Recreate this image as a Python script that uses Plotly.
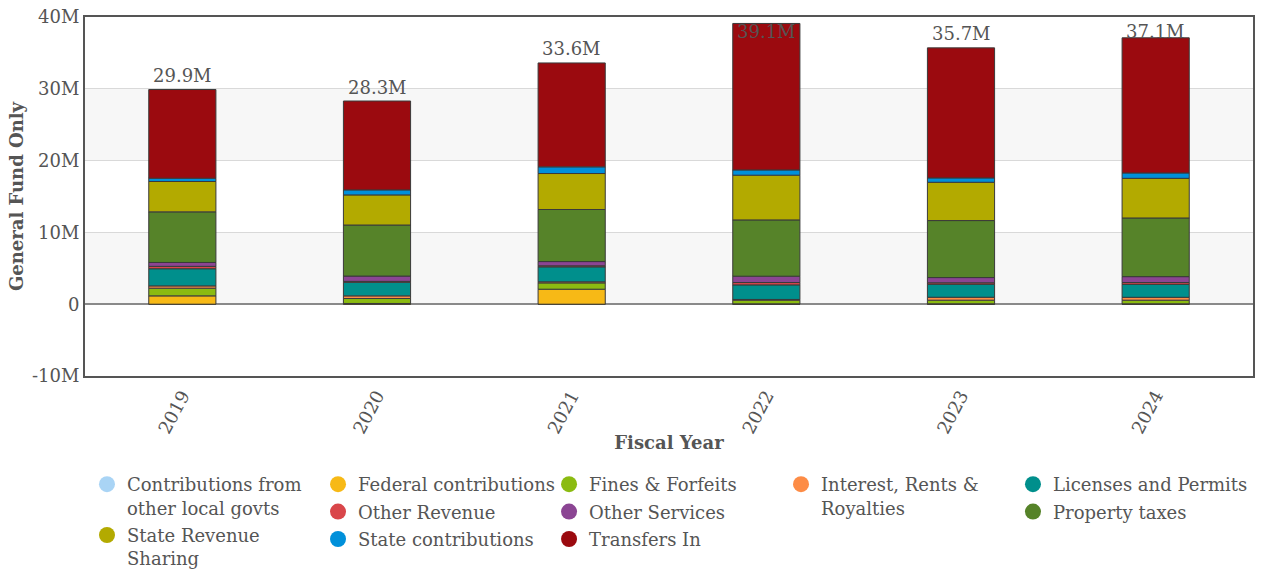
import plotly.graph_objects as go

years = ["2019", "2020", "2021", "2022", "2023", "2024"]

# values in millions of dollars
contrib_local = [0.0, 0.0, 0.0, 0.0, 0.0, 0.0]
federal = [1.16, 0.10, 2.09, 0.05, 0.05, 0.05]
fines = [1.07, 0.69, 0.88, 0.51, 0.51, 0.51]
interest = [0.32, 0.37, 0.15, 0.10, 0.41, 0.40]
licenses = [2.39, 1.90, 2.08, 2.03, 1.81, 1.81]
other_rev = [0.33, 0.12, 0.15, 0.33, 0.20, 0.25]
other_serv = [0.54, 0.74, 0.59, 0.88, 0.73, 0.82]
property_tax = [7.05, 7.11, 7.25, 7.84, 7.94, 8.17]
state_rev_sharing = [4.23, 4.19, 5.01, 6.23, 5.33, 5.52]
state_contrib = [0.46, 0.70, 0.93, 0.73, 0.61, 0.75]
transfers_in = [12.35, 12.38, 14.47, 20.40, 18.11, 18.82]

y_tick_vals = [-10, 0, 10, 20, 30, 40]
y_tick_text = ["-10M", "0", "10M", "20M", "30M", "40M"]

series = [
    ("Contributions from<br>other local govts", contrib_local, "#a9d4f5", "legend"),
    ("Federal contributions", federal, "#f7b916", "legend2"),
    ("Fines & Forfeits", fines, "#8bbb11", "legend3"),
    ("Interest, Rents &<br>Royalties", interest, "#fd8c46", "legend4"),
    ("Licenses and Permits", licenses, "#008f8c", "legend5"),
    ("Other Revenue", other_rev, "#d9464a", "legend2"),
    ("Other Services", other_serv, "#8b4593", "legend3"),
    ("Property taxes", property_tax, "#568329", "legend5"),
    ("State Revenue<br>Sharing", state_rev_sharing, "#b3aa00", "legend"),
    ("State contributions", state_contrib, "#0090da", "legend2"),
    ("Transfers In", transfers_in, "#9b0a0f", "legend3"),
]

FONT = "DejaVu Serif"
GREY = "#555555"

fig = go.Figure()
for i, (name, vals, color, leg) in enumerate(series):
    fig.add_trace(go.Bar(
        x=years, y=vals, name=name, marker=dict(color=color, line=dict(color="#3a3a3a", width=1)),
        showlegend=False, hoverinfo="x+y+name",
    ))
for i, (name, vals, color, leg) in enumerate(series):
    fig.add_trace(go.Scatter(
        x=[years[0]], y=[None], mode="markers", name=name, legend=leg,
        legendgroup="g%d" % i,
        marker=dict(color=color, size=20, symbol="circle"),
        showlegend=True, hoverinfo="skip",
    ))

totals = [sum(s[1][k] for s in series) for k in range(len(years))]
for k, yr in enumerate(years):
    fig.add_annotation(
        x=k, y=min(totals[k], 36.0), yref="y", xref="x",
        text=f"{totals[k]:.1f}M", showarrow=False, yshift=14,
        font=dict(family=FONT, size=18, color=GREY),
    )

# banded background
for lo, hi in [(0, 10), (20, 30)]:
    fig.add_shape(type="rect", xref="paper", yref="y", x0=0, x1=1, y0=lo, y1=hi,
                  fillcolor="#f7f7f7", line=dict(width=0), layer="below")

leg_common = dict(orientation="v", yref="container", yanchor="top", y=1 - 466 / 571,
                  xanchor="left",
                  font=dict(family=FONT, size=18, color=GREY), bgcolor="rgba(0,0,0,0)",
                  traceorder="grouped", tracegroupgap=1, valign="top", itemclick=False)
fig.update_layout(
    width=1261, height=571,
    margin=dict(l=85, r=8, t=17, b=195, autoexpand=False),
    barmode="relative", bargap=0.655,
    plot_bgcolor="white", paper_bgcolor="white",
    font=dict(family=FONT, size=17, color=GREY),
    legend=dict(x=0.0017, **leg_common),
    legend2=dict(x=0.1995, **leg_common),
    legend3=dict(x=0.3973, **leg_common),
    legend4=dict(x=0.5959, **leg_common),
    legend5=dict(x=0.7945, **leg_common),
    xaxis=dict(
        type="category", categoryorder="array", categoryarray=years,
        range=[-0.5, len(years) - 0.5],
        title=dict(text="<b>Fiscal Year</b>", font=dict(family=FONT, size=18, color=GREY), standoff=0),
        tickangle=-62, tickfont=dict(family=FONT, size=18, color=GREY),
        showline=True, mirror=True, linecolor=GREY, linewidth=2, showgrid=False,
    ),
    yaxis=dict(
        title=dict(text="<b>General Fund Only</b>", font=dict(family=FONT, size=18, color=GREY), standoff=4),
        range=[-10, 40], tickvals=y_tick_vals, ticktext=y_tick_text,
        tickfont=dict(family=FONT, size=18, color=GREY),
        showline=True, mirror=True, linecolor=GREY, linewidth=2,
        showgrid=True, gridcolor="#d9d9d9", gridwidth=1,
        zeroline=True, zerolinecolor="#8a8a8a", zerolinewidth=2,
    ),
)

fig.write_html("out.html")
